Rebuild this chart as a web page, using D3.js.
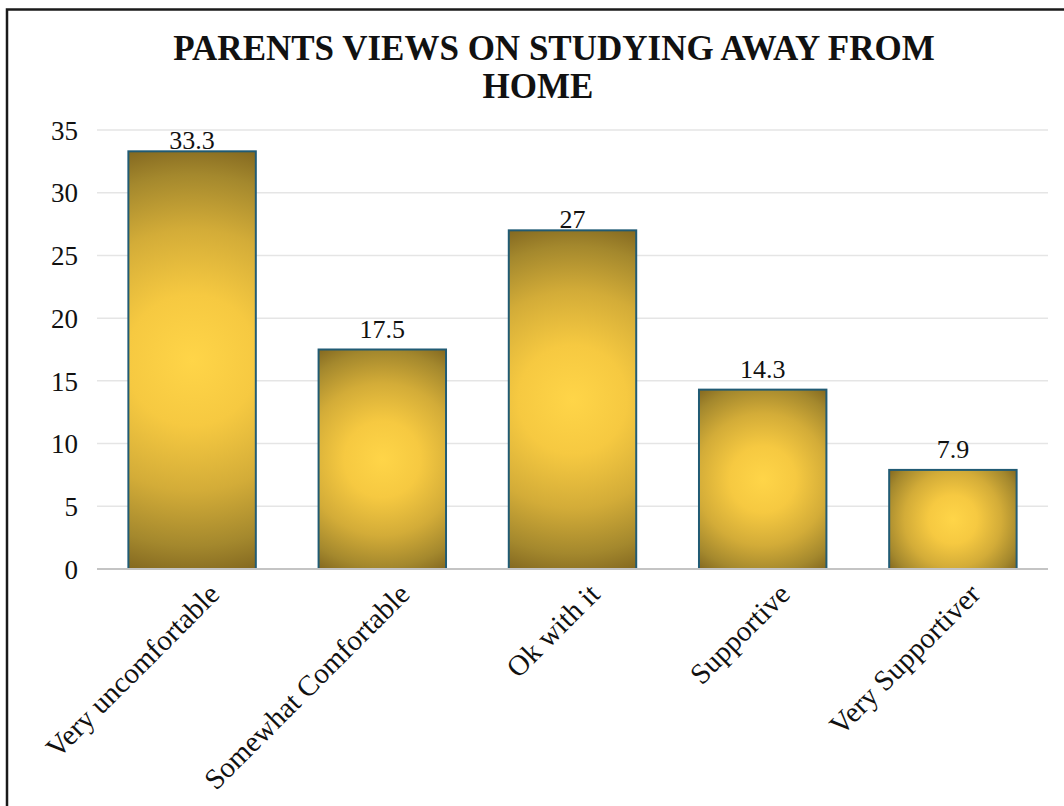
<!DOCTYPE html>
<html>
<head>
<meta charset="utf-8">
<script src="https://cdn.jsdelivr.net/npm/d3@7"></script>
<style>
  html, body { margin: 0; padding: 0; background: #fff; }
  svg { display: block; }
</style>
</head>
<body>
<svg id="chart" width="1064" height="806"></svg>
<script>
// Survey responses: parents' views on studying away from home (%)
const categories = ["Very uncomfortable", "Somewhat Comfortable", "Ok with it", "Supportive", "Very Supportiver"];
const values = [33.3, 17.5, 27, 14.3, 7.9];
const yTicks = [0, 5, 10, 15, 20, 25, 30, 35];
const titleLines = ["PARENTS VIEWS ON STUDYING AWAY FROM", "HOME"];

const svg = d3.select("#chart");
const W = 1064, H = 806;
const serif = "'Liberation Serif', 'Times New Roman', serif";

// outer frame (runs past the right and bottom edges)
svg.append("rect")
  .attr("x", 7).attr("y", 9.5)
  .attr("width", W + 20).attr("height", H + 20)
  .attr("fill", "#fff")
  .attr("stroke", "#1a1a1a").attr("stroke-width", 2.5);

const plot = { left: 97, right: 1048, top: 130, bottom: 569 };

const x = d3.scaleBand()
  .domain(categories)
  .range([plot.left, plot.right])
  .paddingInner(0.33)
  .paddingOuter(0.165);

const y = d3.scaleLinear()
  .domain([0, 35])
  .range([plot.bottom, plot.top]);

// horizontal gridlines
svg.append("g")
  .selectAll("line")
  .data(yTicks.filter(t => t > 0))
  .join("line")
  .attr("x1", plot.left).attr("x2", plot.right)
  .attr("y1", d => y(d)).attr("y2", d => y(d))
  .attr("stroke", "#e5e5e5").attr("stroke-width", 1.5);

// y axis labels
const yAxis = svg.append("g")
  .attr("transform", `translate(${plot.left},0)`)
  .call(d3.axisLeft(y).tickValues(yTicks).tickSize(0).tickPadding(19));
yAxis.select(".domain").remove();
yAxis.selectAll("text")
  .attr("font-family", serif)
  .attr("font-size", 27)
  .attr("fill", "#111")
  .attr("dy", "0.34em");

// bar fills: circular gradient from each bar's centre out to its corners
const defs = svg.append("defs");
const grads = defs.selectAll("radialGradient")
  .data(categories)
  .join("radialGradient")
  .attr("id", (d, i) => "barFill" + i)
  .attr("gradientUnits", "userSpaceOnUse")
  .attr("cx", d => x(d) + x.bandwidth() / 2)
  .attr("cy", (d, i) => (y(values[i]) + y(0)) / 2)
  .attr("r", (d, i) => {
    const hw = x.bandwidth() / 2, hh = (y(0) - y(values[i])) / 2;
    return Math.sqrt(hw * hw + hh * hh);
  });
grads.selectAll("stop")
  .data([
    { o: 0, c: "#ffd548" },
    { o: 0.3, c: "#f6c941" },
    { o: 0.6, c: "#d3ac38" },
    { o: 0.85, c: "#a4882d" },
    { o: 1, c: "#836820" }
  ])
  .join("stop")
  .attr("offset", d => d.o)
  .attr("stop-color", d => d.c);

// bars
svg.append("g")
  .selectAll("rect")
  .data(categories)
  .join("rect")
  .attr("x", d => x(d))
  .attr("y", (d, i) => y(values[i]))
  .attr("width", x.bandwidth())
  .attr("height", (d, i) => y(0) - y(values[i]))
  .attr("fill", (d, i) => `url(#barFill${i})`)
  .attr("stroke", "#215b74").attr("stroke-width", 2);

// baseline
svg.append("line")
  .attr("x1", plot.left).attr("x2", plot.right)
  .attr("y1", y(0)).attr("y2", y(0))
  .attr("stroke", "#c4c4c4").attr("stroke-width", 2);

// value labels: tall bars keep their label tight to the bar top
svg.append("g")
  .selectAll("text")
  .data(categories)
  .join("text")
  .attr("x", d => x(d) + x.bandwidth() / 2)
  .attr("y", (d, i) => y(values[i]) - (values[i] > 25 ? 2 : 12))
  .attr("text-anchor", "middle")
  .attr("font-family", serif)
  .attr("font-size", 26)
  .attr("fill", "#111")
  .text((d, i) => values[i]);

// category labels, rotated
svg.append("g")
  .selectAll("text")
  .data(categories)
  .join("text")
  .attr("transform", d => `translate(${x(d) + x.bandwidth() / 2 + 29},${plot.bottom + 27}) rotate(-45)`)
  .attr("text-anchor", "end")
  .attr("font-family", serif)
  .attr("font-size", 29)
  .attr("fill", "#111")
  .text(d => d);

// title
svg.append("g")
  .selectAll("text")
  .data(titleLines)
  .join("text")
  .attr("x", (d, i) => i === 0 ? 554 : 538)
  .attr("y", (d, i) => 60 + i * 38)
  .attr("text-anchor", "middle")
  .attr("font-family", serif)
  .attr("font-weight", "bold")
  .attr("font-size", 35)
  .attr("fill", "#111")
  .text(d => d);
</script>
</body>
</html>
